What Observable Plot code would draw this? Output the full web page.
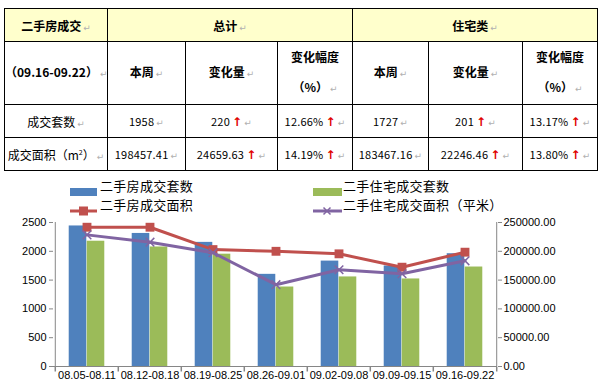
<!DOCTYPE html>
<html><head><meta charset="utf-8">
<script src="https://cdn.jsdelivr.net/npm/d3@7"></script>
<script src="https://cdn.jsdelivr.net/npm/@observablehq/plot@0.6"></script>
<style>
html,body{margin:0;padding:0;background:#fff;}
#wrap{position:relative;width:599px;height:386px;overflow:hidden;font-family:"Noto Sans CJK SC","Noto Sans",sans-serif;}
table{position:absolute;left:4px;top:8px;border-collapse:collapse;table-layout:fixed;width:594px;}
td{border:1px solid #000;text-align:center;vertical-align:middle;padding:0;font-size:12px;color:#000;white-space:nowrap;overflow:hidden;}
tr.h1 td{background:#FFFFCC;font-weight:bold;height:32px;}
tr.h2 td{font-weight:bold;height:62px;line-height:30px;}
tr.d td{height:32px;}
.num{font-size:11px;letter-spacing:0.2px;}
.ret{color:#b0b0b0;font-size:9px;font-family:"DejaVu Sans";font-weight:normal;margin-left:2px;}
.up{color:#e00000;font-weight:bold;font-family:"DejaVu Sans";font-size:12px;margin-left:2px;}
#legend{position:absolute;left:0;top:176px;width:599px;height:36px;}
.li{position:absolute;font-size:13px;color:#000;line-height:19px;height:19px;white-space:nowrap;letter-spacing:0.3px;}
#chart{position:absolute;left:0;top:212px;}
</style></head>
<body><div id="wrap"><div id="tablebox"></div><div id="legend"></div><div id="chart"></div></div>
<script>
// ---- table data ----
const tableTitle = "二手房成交";
const period = "（09.16-09.22）";
const groupHeaders = ["总计", "住宅类"];
const subHeaders = ["本周", "变化量", ["变化幅度", "（%）"]];
const rowLabels = ["成交套数", "成交面积（m²）"];
const totalThisWeek = ["1958", "198457.41"];
const totalChange = ["220", "24659.63"];
const totalPct = ["12.66%", "14.19%"];
const resThisWeek = ["1727", "183467.16"];
const resChange = ["201", "22246.46"];
const resPct = ["13.17%", "13.80%"];

// ---- chart data ----
const categories = ["08.05-08.11","08.12-08.18","08.19-08.25","08.26-09.01","09.02-09.08","09.09-09.15","09.16-09.22"];
const resaleUnits = [2440, 2310, 2155, 1600, 1830, 1745, 1958];
const residentialUnits = [2175, 2075, 1950, 1380, 1555, 1520, 1727];
const resaleArea = [241800, 241800, 203000, 200000, 195600, 172400, 198457.41];
const residentialArea = [228500, 215800, 197500, 142000, 168000, 161000, 183467.16];
const leftTicks = [0, 500, 1000, 1500, 2000, 2500];
const rightTicks = [0, 50000, 100000, 150000, 200000, 250000];
const seriesNames = ["二手房成交套数", "二手住宅成交套数", "二手房成交面积", "二手住宅成交面积（平米）"];
const colors = {blue:"#4F81BD", green:"#9BBB59", red:"#C0504D", purple:"#8064A2"};

// ---- build table ----
const ret = '<span class="ret">↵</span>';
const up = '<span class="up">↑</span>';
const colW = [103, 78, 92, 75, 76, 94, 75];
let html = '<table><colgroup>' + colW.map(w => `<col style="width:${w}px">`).join("") + '</colgroup>';
html += `<tr class="h1"><td>${tableTitle}${ret}</td><td colspan="3">${groupHeaders[0]}${ret}</td><td colspan="3">${groupHeaders[1]}${ret}</td></tr>`;
const sub = subHeaders.map(s => Array.isArray(s) ? `<td>${s[0]}<br>${s[1]}${ret}</td>` : `<td>${s}${ret}</td>`).join("");
html += `<tr class="h2"><td>${period}${ret}</td>${sub}${sub}</tr>`;
rowLabels.forEach((lab, i) => {
  const labHtml = lab.replace("m²", 'm<sup style="font-size:7px">2</sup>');
  html += `<tr class="d"><td>${labHtml}${ret}</td>` +
    `<td class="num">${totalThisWeek[i]}${ret}</td>` +
    `<td class="num">${totalChange[i]}${up}${ret}</td>` +
    `<td class="num">${totalPct[i]}${up}${ret}</td>` +
    `<td class="num">${resThisWeek[i]}${ret}</td>` +
    `<td class="num">${resChange[i]}${up}${ret}</td>` +
    `<td class="num">${resPct[i]}${up}${ret}</td></tr>`;
});
html += '</table>';
document.getElementById("tablebox").innerHTML = html;

// ---- legend ----
const lg = document.getElementById("legend");
function legendItem(x, y, iconSvg, text) {
  const ic = document.createElement("div");
  ic.style.cssText = `position:absolute;left:${x}px;top:${y - 6}px;width:30px;height:12px;`;
  ic.innerHTML = iconSvg;
  lg.appendChild(ic);
  const t = document.createElement("div");
  t.className = "li";
  t.style.left = (x + 30) + "px";
  t.style.top = (y - 9.5) + "px";
  t.textContent = text;
  lg.appendChild(t);
}
legendItem(70, 9, `<svg width="30" height="12"><rect x="0" y="2" width="27" height="8" fill="${colors.blue}"/></svg>`, seriesNames[0]);
legendItem(313, 9, `<svg width="30" height="12"><rect x="0" y="2" width="29" height="8" fill="${colors.green}"/></svg>`, seriesNames[1]);
legendItem(70, 28, `<svg width="30" height="12"><line x1="0" x2="27" y1="6" y2="6" stroke="${colors.red}" stroke-width="3"/><rect x="9" y="1.5" width="9" height="9" fill="${colors.red}"/></svg>`, seriesNames[2]);
legendItem(313, 28, `<svg width="30" height="12"><line x1="0" x2="29" y1="6" y2="6" stroke="${colors.purple}" stroke-width="3"/><path d="M10.5,2.5L17.5,9.5M17.5,2.5L10.5,9.5" stroke="${colors.purple}" stroke-width="1.5"/></svg>`, seriesNames[3]);

// ---- chart ----
const W = 599, H = 174, mL = 53, mR = 102, mT = 10, mB = 20;
const bw = (W - mL - mR) / categories.length;
const ratio = rightTicks[rightTicks.length - 1] / leftTicks[leftTicks.length - 1];
const rows = categories.map((c, i) => ({cat: c, a: resaleUnits[i], b: residentialUnits[i], ra: resaleArea[i], rb: residentialArea[i]}));
const tickSym = {draw(ctx) { ctx.moveTo(0, 0); ctx.lineTo(0, 5); }};
const axisColor = "#868686";

const chart = Plot.plot({
  width: W, height: H, marginLeft: mL, marginRight: mR, marginTop: mT, marginBottom: mB,
  style: {fontFamily: "Liberation Sans, Arial, sans-serif", fontSize: "11px", color: "#000", background: "transparent"},
  x: {type: "band", domain: categories, paddingInner: 0, paddingOuter: 0, axis: null},
  y: {domain: [0, leftTicks[leftTicks.length - 1]], axis: null},
  marks: [
    Plot.barY(rows, {x: "cat", y: "a", fill: colors.blue, insetLeft: bw / 2 - 18, insetRight: bw / 2}),
    Plot.barY(rows, {x: "cat", y: "b", fill: colors.green, insetLeft: bw / 2, insetRight: bw / 2 - 18}),
    Plot.ruleY([0], {stroke: axisColor}),
    Plot.ruleX([categories[0]], {x: d => d, y1: 0, y2: leftTicks[leftTicks.length - 1], dx: -bw / 2, stroke: axisColor}),
    Plot.ruleX([categories[categories.length - 1]], {x: d => d, y1: 0, y2: leftTicks[leftTicks.length - 1], dx: bw / 2, stroke: axisColor}),
    Plot.dot(categories, {x: d => d, y: 0, dx: -bw / 2, symbol: tickSym, fill: "none", stroke: axisColor}),
    Plot.dot([categories[categories.length - 1]], {x: d => d, y: 0, dx: bw / 2, symbol: tickSym, fill: "none", stroke: axisColor}),
    Plot.lineY(rows, {x: "cat", y: d => d.ra / ratio, stroke: colors.red, strokeWidth: 3, strokeLinejoin: "round"}),
    Plot.dot(rows, {x: "cat", y: d => d.ra / ratio, symbol: "square", fill: colors.red, r: 5}),
    Plot.lineY(rows, {x: "cat", y: d => d.rb / ratio, stroke: colors.purple, strokeWidth: 3, strokeLinejoin: "round"}),
    Plot.dot(rows, {x: "cat", y: d => d.rb / ratio, symbol: "times", stroke: colors.purple, strokeWidth: 1.5, r: 4}),
    Plot.axisY({anchor: "left", ticks: leftTicks, tickFormat: d => String(d), tickSize: 4, tickPadding: 3, stroke: axisColor, fill: "#000", label: null}),
    Plot.axisY({anchor: "right", ticks: rightTicks.map(v => v / ratio), tickFormat: d => (d * ratio).toFixed(2), tickSize: 4, tickPadding: 2, stroke: axisColor, fill: "#000", label: null}),
    Plot.axisX({tickSize: 0, tickPadding: 5, fill: "#000", label: null})
  ]
});
document.getElementById("chart").appendChild(chart);
</script></body></html>
